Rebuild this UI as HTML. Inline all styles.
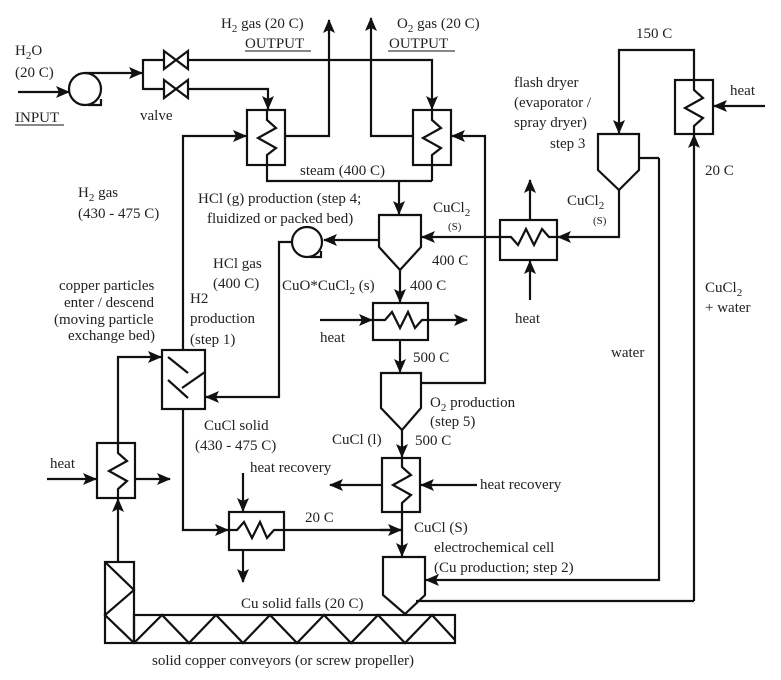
<!DOCTYPE html>
<html><head><meta charset="utf-8"><style>
html,body{margin:0;padding:0;background:#fff;}
svg{display:block;}
text{font-family:"Liberation Serif",serif;font-size:15px;fill:#222;}
.s{font-size:11px;}
</style></head><body>
<svg width="781" height="680" viewBox="0 0 781 680" xmlns="http://www.w3.org/2000/svg">
<defs>
<marker id="a" markerUnits="userSpaceOnUse" markerWidth="14" markerHeight="12" refX="13" refY="6" orient="auto">
<path d="M0,0 L14,6 L0,12 L3,6 z" fill="#111"/></marker>
</defs>
<g fill="none" stroke="#111" stroke-width="2.2">
<line x1="18" y1="92" x2="69" y2="92" marker-end="url(#a)"/>
<circle cx="85" cy="89" r="16"/>
<path d="M88,105 L101,105 L101,99"/>
<line x1="85" y1="73" x2="142" y2="73" marker-end="url(#a)"/>
<line x1="143" y1="59" x2="143" y2="90"/>
<line x1="143" y1="60" x2="164" y2="60"/>
<line x1="143" y1="89" x2="164" y2="89"/>
<path d="M164,51 L188,69 L188,51 L164,69 z"/>
<path d="M164,80 L188,98 L188,80 L164,98 z"/>
<polyline points="188,60 432,60 432,109" marker-end="url(#a)"/>
<polyline points="188,89 268,89 268,109" marker-end="url(#a)"/>
<rect x="247" y="110" width="38" height="55"/>
<polyline points="267,110 267,120 276,128 258,138 276,148 267,155 267,181 432,181"/>
<polyline points="285,136 329,136 329,20" marker-end="url(#a)"/>
<polyline points="183,350 183,136 246,136" marker-end="url(#a)"/>
<rect x="413" y="110" width="38" height="55"/>
<polyline points="432,110 432,120 441,128 423,138 441,148 432,155 432,181"/>
<polyline points="413,136 371,136 371,18" marker-end="url(#a)"/>
<polyline points="421,383 485,383 485,136 452,136" marker-end="url(#a)"/>
<line x1="399" y1="181" x2="399" y2="214" marker-end="url(#a)"/>
<path d="M379,215 L421,215 L421,247 L400,270 L379,247 z"/>
<line x1="379" y1="240" x2="324" y2="240" marker-end="url(#a)"/>
<circle cx="307" cy="242" r="15"/>
<path d="M310,257 L321,257 L321,251"/>
<polyline points="292,242 279,242 279,397 206,397" marker-end="url(#a)"/>
<line x1="400" y1="270" x2="400" y2="302" marker-end="url(#a)"/>
<rect x="373" y="303" width="55" height="37"/>
<polyline points="373,320 385,320 392,312 400,328 408,312 415,328 422,320 428,320"/>
<line x1="320" y1="320" x2="372" y2="320" marker-end="url(#a)"/>
<line x1="428" y1="320" x2="467" y2="320" marker-end="url(#a)"/>
<line x1="400" y1="340" x2="400" y2="372" marker-end="url(#a)"/>
<path d="M381,373 L421,373 L421,408 L402,430 L381,408 z"/>
<line x1="402" y1="430" x2="402" y2="457" marker-end="url(#a)"/>
<rect x="382" y="458" width="38" height="54"/>
<polyline points="402,458 402,467 411,475 393,485 411,495 402,503 402,556" marker-end="url(#a)"/>
<line x1="382" y1="485" x2="330" y2="485" marker-end="url(#a)"/>
<line x1="477" y1="485" x2="421" y2="485" marker-end="url(#a)"/>
<path d="M383,557 L425,557 L425,595 L405,614 L383,595 z"/>
<polyline points="659,158 659,580 426,580" marker-end="url(#a)"/>
<polyline points="694,601 694,135" marker-end="url(#a)"/>
<line x1="694" y1="601" x2="416" y2="601"/>
<rect x="229" y="512" width="55" height="38"/>
<polyline points="229,530 237,530 244,522 252,538 260,522 267,538 274,530 402,530"/>
<line x1="380" y1="530" x2="401" y2="530" marker-end="url(#a)"/>
<polyline points="183,409 183,530 228,530" marker-end="url(#a)"/>
<line x1="243" y1="473" x2="243" y2="511" marker-end="url(#a)"/>
<line x1="243" y1="550" x2="243" y2="582" marker-end="url(#a)"/>
<rect x="162" y="350" width="43" height="59"/>
<line x1="168" y1="357" x2="188" y2="373"/>
<line x1="168" y1="380" x2="188" y2="398"/>
<line x1="205" y1="372" x2="182" y2="388"/>
<polyline points="118,443 118,357 161,357" marker-end="url(#a)"/>
<rect x="97" y="443" width="38" height="55"/>
<polyline points="118,443 118,453 127,461 109,471 127,481 118,489 118,498"/>
<line x1="47" y1="479" x2="96" y2="479" marker-end="url(#a)"/>
<line x1="135" y1="479" x2="170" y2="479" marker-end="url(#a)"/>
<line x1="118" y1="562" x2="118" y2="499" marker-end="url(#a)"/>
<rect x="105" y="562" width="29" height="81"/>
<polyline points="105,562 134,590 105,615 134,643"/>
<rect x="134" y="615" width="321" height="28"/>
<polyline points="134,643 162,615 189,643 216,615 243,643 270,615 297,643 324,615 351,643 378,615 405,643 432,615 455,640"/>
<path d="M598,134 L639,134 L639,170 L619,190 L598,170 z"/>
<polyline points="694,80 694,50 619,50 619,133" marker-end="url(#a)"/>
<line x1="639" y1="158" x2="659" y2="158"/>
<rect x="675" y="80" width="38" height="54"/>
<polyline points="694,80 694,90 703,98 685,108 703,118 694,126 694,134"/>
<line x1="765" y1="106" x2="714" y2="106" marker-end="url(#a)"/>
<polyline points="619,190 619,237 558,237" marker-end="url(#a)"/>
<rect x="500" y="220" width="57" height="40"/>
<polyline points="557,237 549,237 542,229 534,245 526,229 518,245 511,237 422,237" marker-end="url(#a)"/>
<line x1="530" y1="220" x2="530" y2="180" marker-end="url(#a)"/>
<line x1="530" y1="300" x2="530" y2="261" marker-end="url(#a)"/>
<line x1="245" y1="51" x2="311" y2="51" stroke-width="1"/>
<line x1="388" y1="51" x2="455" y2="51" stroke-width="1"/>
<line x1="15" y1="125" x2="64" y2="125" stroke-width="1"/>
</g>
<text x="221" y="28">H<tspan class="s" dy="4">2</tspan><tspan dy="-4"> gas (20 C)</tspan></text>
<text x="245" y="48">OUTPUT</text>
<text x="397" y="28">O<tspan class="s" dy="4">2</tspan><tspan dy="-4"> gas (20 C)</tspan></text>
<text x="389" y="48">OUTPUT</text>
<text x="15" y="55">H<tspan class="s" dy="4">2</tspan><tspan dy="-4">O</tspan></text>
<text x="15" y="77">(20 C)</text>
<text x="15" y="122">INPUT</text>
<text x="140" y="120">valve</text>
<text x="300" y="175">steam (400 C)</text>
<text x="78" y="197">H<tspan class="s" dy="4">2</tspan><tspan dy="-4"> gas</tspan></text>
<text x="78" y="218">(430 - 475 C)</text>
<text x="198" y="203">HCl (g) production (step 4;</text>
<text x="207" y="223">fluidized or packed bed)</text>
<text x="433" y="212">CuCl<tspan class="s" dy="4">2</tspan></text>
<text x="448" y="230" class="s">(S)</text>
<text x="432" y="265">400 C</text>
<text x="410" y="290">400 C</text>
<text x="213" y="268">HCl gas</text>
<text x="213" y="288">(400 C)</text>
<text x="282" y="290">CuO*CuCl<tspan class="s" dy="4">2</tspan><tspan dy="-4"> (s)</tspan></text>
<text x="59" y="290">copper particles</text>
<text x="64" y="307">enter / descend</text>
<text x="54" y="324">(moving particle</text>
<text x="68" y="340">exchange bed)</text>
<text x="190" y="303">H2</text>
<text x="190" y="323">production</text>
<text x="190" y="344">(step 1)</text>
<text x="320" y="342">heat</text>
<text x="413" y="362">500 C</text>
<text x="430" y="407">O<tspan class="s" dy="4">2</tspan><tspan dy="-4"> production</tspan></text>
<text x="430" y="426">(step 5)</text>
<text x="204" y="430">CuCl solid</text>
<text x="195" y="450">(430 - 475 C)</text>
<text x="332" y="444">CuCl (l)</text>
<text x="415" y="445">500 C</text>
<text x="50" y="468">heat</text>
<text x="250" y="472">heat recovery</text>
<text x="480" y="489">heat recovery</text>
<text x="305" y="522">20 C</text>
<text x="414" y="532">CuCl (S)</text>
<text x="434" y="552">electrochemical cell</text>
<text x="434" y="572">(Cu production; step 2)</text>
<text x="241" y="608">Cu solid falls (20 C)</text>
<text x="152" y="665">solid copper conveyors (or screw propeller)</text>
<text x="636" y="38">150 C</text>
<text x="514" y="87">flash dryer</text>
<text x="514" y="107">(evaporator /</text>
<text x="514" y="127">spray dryer)</text>
<text x="550" y="148">step 3</text>
<text x="730" y="95">heat</text>
<text x="705" y="175">20 C</text>
<text x="567" y="205">CuCl<tspan class="s" dy="4">2</tspan></text>
<text x="593" y="224" class="s">(S)</text>
<text x="515" y="323">heat</text>
<text x="705" y="292">CuCl<tspan class="s" dy="4">2</tspan></text>
<text x="705" y="312">+ water</text>
<text x="611" y="357">water</text>
</svg>
</body></html>
